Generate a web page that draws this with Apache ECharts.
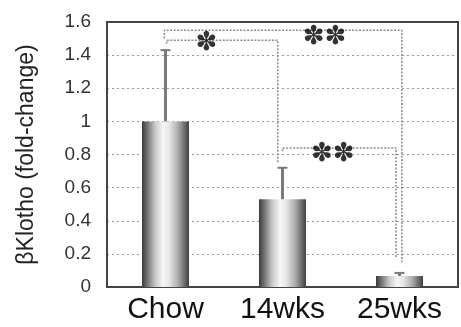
<!DOCTYPE html>
<html>
<head>
<meta charset="utf-8">
<script src="https://cdn.jsdelivr.net/npm/echarts@6/dist/echarts.min.js"></script>
<style>
html, body { margin: 0; padding: 0; background: #fff; }
#chart { width: 461px; height: 327px; }
</style>
</head>
<body>
<div id="chart"></div>
<script>
// data
let groups = ['Chow', '14wks', '25wks'];
let foldChange = [1.0, 0.53, 0.066];
let errTop = [1.43, 0.72, 0.085];
let yTicks = [0, 0.2, 0.4, 0.6, 0.8, 1, 1.2, 1.4, 1.6];

// significance brackets, [x, y] in data space (x: group index)
let bracketChow14 = [[0.01, 1.47], [0.01, 1.49], [0.96, 1.49], [0.96, 0.75]];
let bracketChow25 = [[-0.01, 1.50], [-0.01, 1.55], [2.02, 1.55], [2.02, 0.15]];
let bracket1425 = [[1.0, 0.82], [1.0, 0.84], [1.97, 0.84], [1.97, 0.18]];
let stars = [
  {value: [0.35, 1.47], text: '✽'},
  {value: [1.36, 1.51], text: '✽✽'},
  {value: [1.43, 0.80], text: '✽✽'}
];

let chart = echarts.init(document.getElementById('chart'));

let barColor = {
  type: 'linear', x: 0, y: 0, x2: 1, y2: 0,
  colorStops: [
    {offset: 0, color: '#3a3a3a'},
    {offset: 0.28, color: '#c8c8c8'},
    {offset: 0.45, color: '#f6f6f6'},
    {offset: 0.58, color: '#e6e6e6'},
    {offset: 0.78, color: '#a8a8a8'},
    {offset: 1, color: '#404040'}
  ]
};

function bracketSeries(pts) {
  return {
    type: 'line',
    xAxisIndex: 1,
    data: pts,
    symbol: 'none',
    silent: true,
    lineStyle: {color: '#8a8a8a', width: 1.5, type: [2, 1.5]},
    z: 5
  };
}

let option = {
  animation: false,
  grid: {
    left: 107, right: 3, top: 22, bottom: 40,
    show: true, borderColor: '#444', borderWidth: 2
  },
  xAxis: [
    {
      type: 'category',
      data: groups,
      axisLine: {show: true, onZero: false, lineStyle: {color: '#444', width: 2}},
      axisTick: {show: false},
      axisLabel: {color: '#111', fontSize: 30, fontFamily: 'Liberation Sans', margin: 8}
    },
    {
      type: 'value',
      min: -0.5,
      max: 2.5,
      show: false
    }
  ],
  yAxis: {
    type: 'value',
    min: 0,
    max: 1.6,
    interval: 0.2,
    name: 'βKlotho (fold-change)',
    nameLocation: 'middle',
    nameGap: 69,
    nameTextStyle: {color: '#222', fontSize: 23, fontFamily: 'Liberation Sans'},
    axisLine: {show: true, onZero: false, lineStyle: {color: '#444', width: 2}},
    axisTick: {show: false},
    axisLabel: {
      color: '#333', fontSize: 19, fontFamily: 'Liberation Sans', margin: 16,
      formatter: v => {
        let t = yTicks.find(k => Math.abs(k - v) < 1e-6);
        return t === undefined ? '' : String(t);
      }
    },
    splitLine: {show: true, lineStyle: {color: '#999', width: 1, type: [2, 3]}}
  },
  series: [
    {
      // plot frame, drawn from the grid's own rectangle
      type: 'custom',
      data: [[0, 0]],
      silent: true,
      clip: false,
      renderItem: function (params, api) {
        let cs = params.coordSys;
        let x0 = cs.x, y0 = cs.y, x1 = cs.x + cs.width, y1 = cs.y + cs.height;
        let st = {stroke: '#444', lineWidth: 2, fill: null};
        return {
          type: 'group',
          children: [
            {type: 'line', shape: {x1: x0, y1: y0, x2: x1, y2: y0}, style: st},
            {type: 'line', shape: {x1: x1, y1: y0, x2: x1, y2: y1}, style: st},
            {type: 'line', shape: {x1: x0, y1: y1, x2: x0, y2: y0}, style: st}
          ]
        };
      },
      z: 10
    },
    {
      type: 'bar',
      data: foldChange,
      barWidth: 47,
      itemStyle: {color: barColor},
      z: 3
    },
    {
      type: 'custom',
      data: groups.map((g, i) => [i, foldChange[i], errTop[i]]),
      renderItem: function (params, api) {
        let base = api.coord([api.value(0), api.value(1)]);
        let top = api.coord([api.value(0), api.value(2)]);
        return {
          type: 'group',
          children: [
            {type: 'line', shape: {x1: base[0], y1: base[1], x2: top[0], y2: top[1]}, style: {stroke: '#7a7a7a', lineWidth: 3}},
            {type: 'line', shape: {x1: top[0] - 5, y1: top[1], x2: top[0] + 5, y2: top[1]}, style: {stroke: '#7a7a7a', lineWidth: 2}}
          ]
        };
      },
      z: 4
    },
    bracketSeries(bracketChow14),
    bracketSeries(bracketChow25),
    bracketSeries(bracket1425),
    {
      type: 'scatter',
      xAxisIndex: 1,
      data: stars,
      symbolSize: 0,
      silent: true,
      label: {
        show: true,
        position: 'inside',
        formatter: p => p.data.text,
        color: '#000',
        fontSize: 26,
        fontFamily: 'DejaVu Sans'
      },
      z: 6
    }
  ]
};

chart.setOption(option);
</script>
</body>
</html>
